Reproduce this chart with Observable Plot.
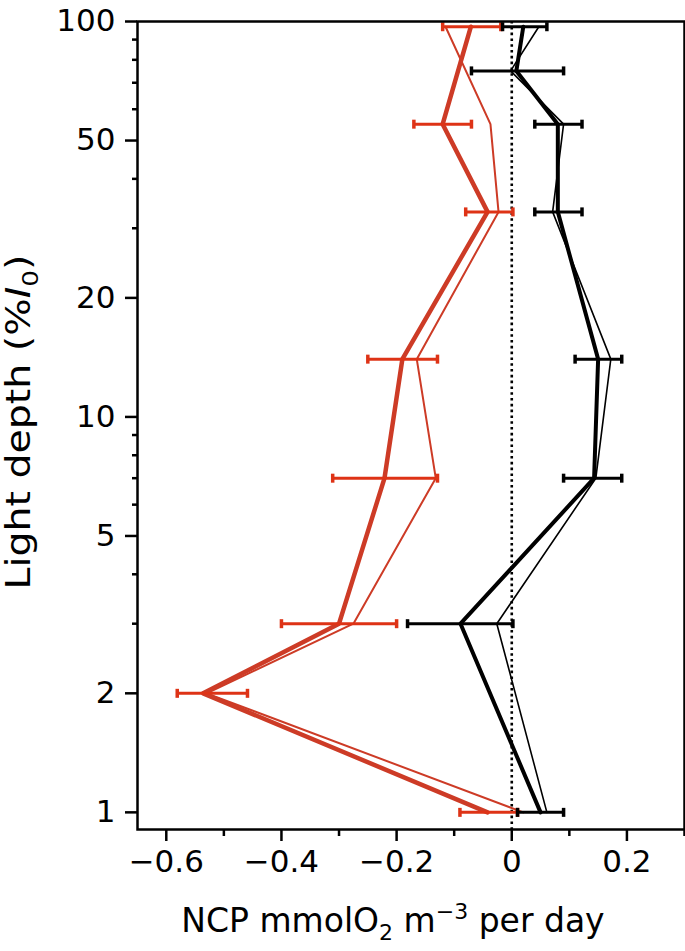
<!DOCTYPE html>
<html><head><meta charset="utf-8">
<script src="https://cdn.jsdelivr.net/npm/d3@7"></script>
<script src="https://cdn.jsdelivr.net/npm/@observablehq/plot@0.6"></script>
<style>body{margin:0;background:#fff}</style>
</head><body><div id="chart"></div>
<script>
// Light depth (% I0) levels
const depthRed   = [97, 55, 33, 14, 7, 3, 2, 1];
const redMean    = [-0.071, -0.12, -0.042, -0.19, -0.221, -0.30, -0.536, -0.042];
const redThin    = [-0.115, -0.037, -0.023, -0.165, -0.132, -0.275, -0.53, 0.02];
const redLo      = [-0.12, -0.17, -0.08, -0.25, -0.311, -0.40, -0.581, -0.09];
const redHi      = [-0.019, -0.07, 0.002, -0.129, -0.129, -0.20, -0.459, 0.01];

const depthBlack = [97, 75, 55, 33, 14, 7, 3, 1];
const blackMean  = [0.02, 0.008, 0.08, 0.08, 0.15, 0.143, -0.089, 0.05];
const blackThin  = [0.047, -0.002, 0.09, 0.071, 0.172, 0.146, -0.026, 0.061];
const blackLo    = [-0.016, -0.07, 0.04, 0.04, 0.11, 0.09, -0.181, 0.01];
const blackHi    = [0.061, 0.09, 0.122, 0.122, 0.191, 0.191, 0.002, 0.09];

const xTickValues = [-0.6, -0.4, -0.2, 0, 0.2];
const xTickLabels = ["\u22120.6", "\u22120.4", "\u22120.2", "0", "0.2"];
const xMinorTicks = [-0.5, -0.3, -0.1, 0.1, 0.3];
const yTickValues = [100, 50, 20, 10, 5, 2, 1];
const yTickLabels = ["100", "50", "20", "10", "5", "2", "1"];
const yMinorTicks = [90, 80, 70, 60, 40, 30, 9, 8, 7, 6, 4, 3];

const redLine = "#cd3b26", redBar = "#de3316";

const red = depthRed.map((d, i) => ({depth: d, mean: redMean[i], thin: redThin[i], lo: redLo[i], hi: redHi[i]}));
const black = depthBlack.map((d, i) => ({depth: d, mean: blackMean[i], thin: blackThin[i], lo: blackLo[i], hi: blackHi[i]}));

const cap = {draw(ctx) { ctx.moveTo(0, -4.5); ctx.lineTo(0, 4.5); }};

function errorBars(data, color) {
  return [
    Plot.ruleY(data, {y: "depth", x1: "lo", x2: "hi", stroke: color, strokeWidth: 3}),
    Plot.dot(data, {x: "lo", y: "depth", symbol: cap, stroke: color, strokeWidth: 3.5, fill: "none"}),
    Plot.dot(data, {x: "hi", y: "depth", symbol: cap, stroke: color, strokeWidth: 3.5, fill: "none"})
  ];
}

const plot = Plot.plot({
  width: 685, height: 951,
  marginLeft: 137, marginRight: 1, marginTop: 21, marginBottom: 122,
  style: {fontFamily: "DejaVu Sans", fontSize: "30px", background: "white", color: "black"},
  x: {domain: [-0.65, 0.3]},
  y: {type: "log", domain: [0.905, 100]},
  marks: [
    Plot.ruleX([0], {stroke: "black", strokeDasharray: "2.6,3.2", strokeWidth: 2.6}),
    Plot.axisX({ticks: xTickValues, tickSize: 12, strokeWidth: 2.5, tickPadding: 8,
      tickFormat: d => xTickLabels[xTickValues.indexOf(d)], label: null}),
    Plot.axisX({ticks: xMinorTicks, tickSize: 7, strokeWidth: 2.5, tickFormat: () => "", label: null}),
    Plot.axisY({ticks: yTickValues, tickSize: 12, strokeWidth: 2.5, tickPadding: 10,
      tickFormat: d => yTickLabels[yTickValues.indexOf(d)], label: null}),
    Plot.axisY({ticks: yMinorTicks, tickSize: 5, strokeWidth: 2.5, tickFormat: () => "", label: null}),
    Plot.line(red, {x: "thin", y: "depth", stroke: redLine, strokeWidth: 2}),
    Plot.line(red, {x: "mean", y: "depth", stroke: redLine, strokeWidth: 4.5}),
    Plot.line(black, {x: "thin", y: "depth", stroke: "black", strokeWidth: 1.6}),
    Plot.line(black, {x: "mean", y: "depth", stroke: "black", strokeWidth: 4}),
    ...errorBars(red, redBar),
    ...errorBars(black, "black"),
    Plot.frame({stroke: "black", strokeWidth: 2.5})
  ]
});

document.getElementById("chart").appendChild(plot);

const svg = d3.select(plot);
svg.selectAll('[aria-label$="tick label"]').attr("font-size", 31).style("font-size", "31px");
svg.selectAll('[aria-label$="tick label"] text').attr("font-size", 31).style("font-size", "31px");

const xt = svg.append("text")
  .attr("x", 393).attr("y", 932)
  .attr("text-anchor", "middle")
  .attr("font-family", "DejaVu Sans").attr("font-size", 33).attr("fill", "black");
xt.append("tspan").text("NCP mmolO");
xt.append("tspan").attr("dy", 8).attr("font-size", 22).text("2");
xt.append("tspan").attr("dy", -8).text(" m");
xt.append("tspan").attr("dy", -13).attr("font-size", 22).text("\u22123");
xt.append("tspan").attr("dy", 13).text(" per day");

const yt = svg.append("text")
  .attr("transform", "translate(30,422) rotate(-90)")
  .attr("text-anchor", "middle")
  .attr("textLength", 335).attr("lengthAdjust", "spacingAndGlyphs")
  .attr("font-family", "DejaVu Sans").attr("font-size", 33).attr("fill", "black");
yt.append("tspan").text("Light depth (%");
yt.append("tspan").attr("font-style", "italic").text("I");
yt.append("tspan").attr("dy", 8).attr("font-size", 22).text("0");
yt.append("tspan").attr("dy", -8).text(")");
</script>
</body></html>
